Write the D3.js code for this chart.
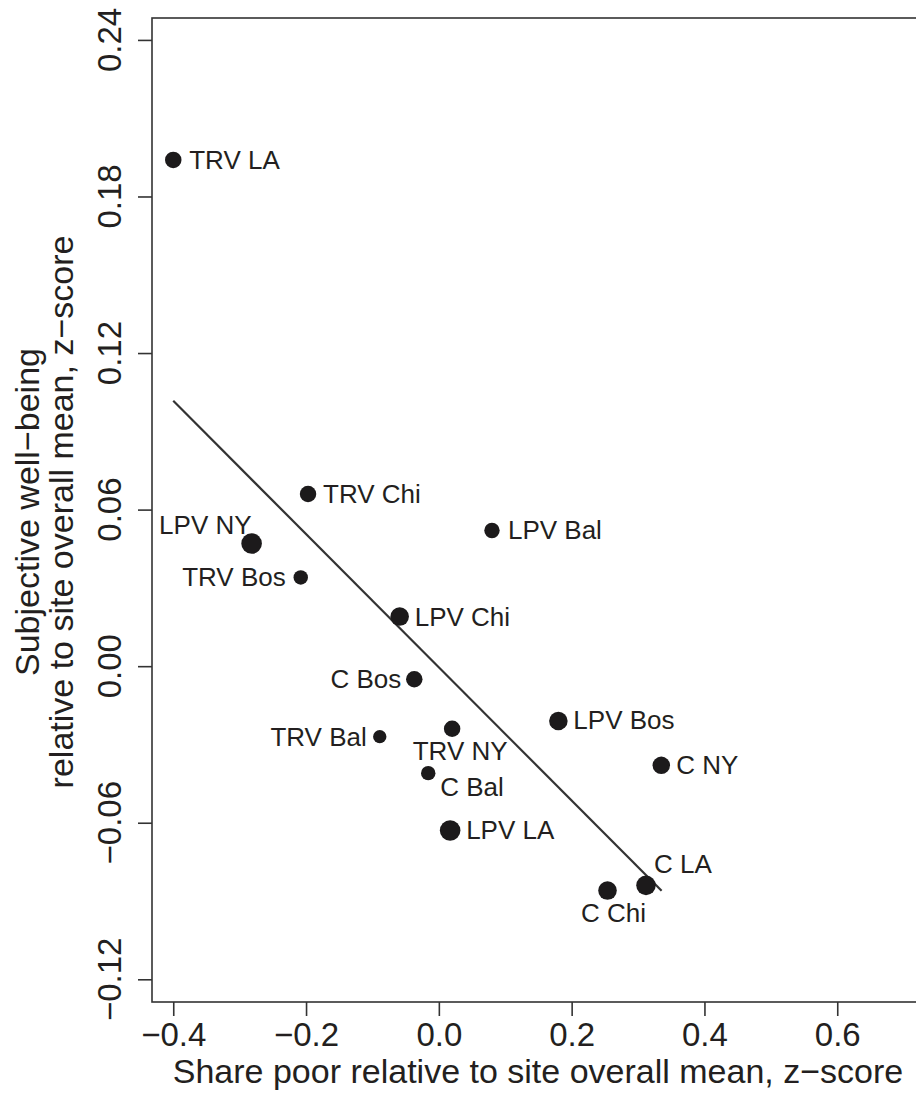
<!DOCTYPE html>
<html>
<head>
<meta charset="utf-8">
<script src="https://cdn.jsdelivr.net/npm/d3@7"></script>
<style>
  html, body { margin: 0; padding: 0; background: #fff; }
  svg { display: block; }
  text { font-family: "Liberation Sans", Arial, Helvetica, sans-serif; fill: #231f20; }
</style>
</head>
<body>
<svg id="chart" width="916" height="1094"></svg>
<script>
// Neighbourhood groups: program arm (TRV / LPV / C) by site
const labels = ["TRV LA", "TRV Chi", "LPV NY", "TRV Bos", "LPV Chi", "LPV Bal", "C Bos",
                "TRV Bal", "TRV NY", "C Bal", "LPV LA", "LPV Bos", "C NY", "C LA", "C Chi"];
// Share poor relative to site overall mean (z-score)
const sharePoor = [-0.400, -0.197, -0.282, -0.208, -0.059, 0.080, -0.037,
                   -0.089, 0.020, -0.016, 0.017, 0.180, 0.335, 0.312, 0.254];
// Subjective well-being relative to site overall mean (z-score)
const wellBeing = [0.194, 0.066, 0.047, 0.034, 0.019, 0.052, -0.005,
                   -0.027, -0.024, -0.041, -0.063, -0.021, -0.038, -0.084, -0.086];
// Relative group weight (drives dot area)
const weights = [64, 64, 100, 49, 81, 56, 64, 42, 64, 49, 100, 81, 72, 90, 81];
// Fitted line endpoints
const fitX = [-0.400, 0.3355];
const fitY = [0.1017, -0.0861];
// Axis ticks
const xTicks = [-0.4, -0.2, 0.0, 0.2, 0.4, 0.6];
const yTicks = [-0.12, -0.06, 0.00, 0.06, 0.12, 0.18, 0.24];

// Label placement around each dot: [anchor, dx, dy] in px
const place = {
  "TRV LA": ["start", 16, 9], "TRV Chi": ["start", 15, 9], "LPV NY": ["end", 0, -10],
  "TRV Bos": ["end", -15, 9], "LPV Chi": ["start", 15, 9], "LPV Bal": ["start", 16, 9],
  "C Bos": ["end", -13, 9], "TRV Bal": ["end", -13, 9], "TRV NY": ["middle", 8, 31],
  "C Bal": ["start", 12, 23], "LPV LA": ["start", 16, 8], "LPV Bos": ["start", 15, 8],
  "C NY": ["start", 15, 9], "C LA": ["start", 8, -12], "C Chi": ["middle", 6, 31]
};

const svg = d3.select("#chart");
const plotLeft = 152, plotTop = 18, plotBottom = 1002;
const x = d3.scaleLinear().domain([-0.432, 0.76]).range([plotLeft, plotLeft + 1.192 * 664]);
const y = d3.scaleLinear().domain([-0.1287, 0.2484]).range([plotBottom, plotTop]);
const r = d3.scaleSqrt().domain([0, 100]).range([0, 10.3]);

const ink = "#231f20";

// Plot frame (right side runs past the page edge)
svg.append("rect")
  .attr("x", x.range()[0]).attr("y", plotTop)
  .attr("width", x.range()[1] - x.range()[0]).attr("height", plotBottom - plotTop)
  .attr("fill", "none").attr("stroke", "#333").attr("stroke-width", 1.6);

// X axis
const xAxis = svg.append("g").attr("transform", `translate(0,${plotBottom})`)
  .call(d3.axisBottom(x).tickValues(xTicks).tickSize(14).tickPadding(7)
        .tickFormat(d => d3.format(".1f")(d).replace("-", "\u2212")));
xAxis.select(".domain").remove();
xAxis.selectAll("line").attr("stroke", "#333").attr("stroke-width", 1.6);
xAxis.selectAll("text").attr("font-size", 33).attr("fill", ink)
  .attr("font-family", '"Liberation Sans", Arial, sans-serif');

// Y axis with rotated tick labels
const yAxis = svg.append("g").attr("transform", `translate(${plotLeft},0)`)
  .call(d3.axisLeft(y).tickValues(yTicks).tickSize(14).tickFormat(""));
yAxis.select(".domain").remove();
yAxis.selectAll("line").attr("stroke", "#333").attr("stroke-width", 1.6);
svg.append("g").selectAll("text").data(yTicks).join("text")
  .attr("transform", d => `translate(121,${y(d)}) rotate(-90)`)
  .attr("text-anchor", "middle").attr("font-size", 33)
  .text(d => d3.format(".2f")(d).replace("-", "\u2212"));

// Axis titles
svg.append("text").attr("x", 538).attr("y", 1083)
  .attr("text-anchor", "middle").attr("font-size", 34)
  .text("Share poor relative to site overall mean, z\u2212score");
const midY = (plotTop + plotBottom) / 2 + 2;
svg.append("text").attr("transform", `translate(39,${midY}) rotate(-90)`)
  .attr("text-anchor", "middle").attr("font-size", 34)
  .text("Subjective well\u2212being");
svg.append("text").attr("transform", `translate(73,${midY}) rotate(-90)`)
  .attr("text-anchor", "middle").attr("font-size", 34)
  .text("relative to site overall mean, z\u2212score");

// Fitted line
svg.append("line")
  .attr("x1", x(fitX[0])).attr("y1", y(fitY[0]))
  .attr("x2", x(fitX[1])).attr("y2", y(fitY[1]))
  .attr("stroke", "#333").attr("stroke-width", 2.2);

// Dots and labels
const pts = labels.map((l, i) => ({ l, sx: sharePoor[i], wy: wellBeing[i], w: weights[i] }));
svg.append("g").selectAll("circle").data(pts).join("circle")
  .attr("cx", d => x(d.sx)).attr("cy", d => y(d.wy)).attr("r", d => r(d.w))
  .attr("fill", "#1c1a1b");
svg.append("g").selectAll("text").data(pts).join("text")
  .attr("x", d => x(d.sx) + place[d.l][1])
  .attr("y", d => y(d.wy) + place[d.l][2])
  .attr("text-anchor", d => place[d.l][0])
  .attr("font-size", 26)
  .text(d => d.l);
</script>
</body>
</html>
